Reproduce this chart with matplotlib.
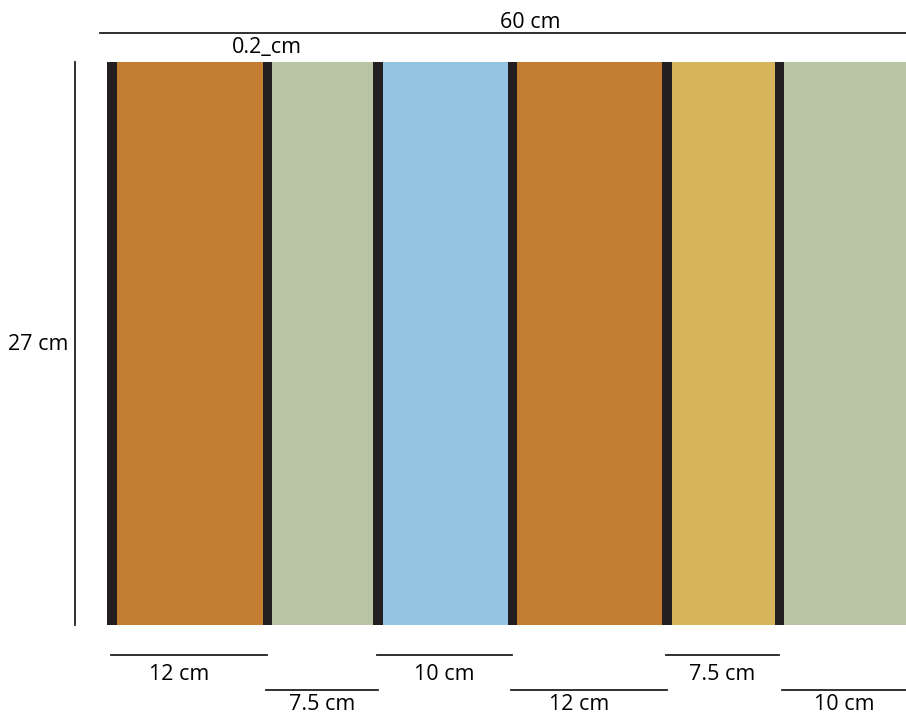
import matplotlib.pyplot as plt
from matplotlib.patches import Rectangle

plt.rcParams['font.family'] = ['Open Sans', 'DejaVu Sans']

# stripe data
labels = ['12 cm', '7.5 cm', '10 cm', '12 cm', '7.5 cm', '10 cm']
colors = ['#C47E33', '#B7C5A5', '#95C3E2', '#C47E33', '#D5B45C', '#B7C5A5']
# drawn widths (diagram units), divider drawn wider than scale
stripe_w = [146, 101, 125, 145, 103, 125]
divider_w = 9.5
total_label = '60 cm'
height_label = '27 cm'
divider_label = '0.2_cm'

fig = plt.figure(figsize=(9.06, 7.16), dpi=100)
ax = fig.add_axes([0, 0, 1, 1])
ax.set_xlim(0, 906)
ax.set_ylim(716, 0)
ax.axis('off')

fs = 15.5
top, bottom = 62, 625
x = 107
centers = []
for w, c in zip(stripe_w, colors):
    ax.add_patch(Rectangle((x, top), divider_w, bottom - top, color='#231F20', lw=0))
    centers.append(x + divider_w / 2)
    x += divider_w
    ax.add_patch(Rectangle((x, top), w, bottom - top, color=c, lw=0))
    x += w
centers.append(x + divider_w / 2)

# overall width
ax.plot([100, 906], [32.5, 32.5], color='#231F20', lw=1.3)
ax.text(530, 22, total_label, ha='center', va='center', fontsize=fs)
ax.text(267, 47, divider_label, ha='center', va='center', fontsize=fs)

# height
ax.plot([75, 75], [top, bottom], color='#231F20', lw=1.3)
ax.text(38, 344, height_label, ha='center', va='center', fontsize=fs)

# widths under stripes, staggered on two rows
for i, lab in enumerate(labels):
    x0 = centers[i] - 1
    x1 = centers[i + 1]
    ly = 655 if i % 2 == 0 else 690
    if i == 5:
        x0 += 4
    ax.plot([x0, x1], [ly, ly], color='#231F20', lw=1.3)
    xc = (x0 + min(x1, 906)) / 2
    if lab == '12 cm':
        xc -= 10
    dy = 19 if i % 2 == 0 else 15
    ax.text(xc, ly + dy, lab, ha='center', va='center', fontsize=fs)

fig.savefig('out.png', dpi=100)
